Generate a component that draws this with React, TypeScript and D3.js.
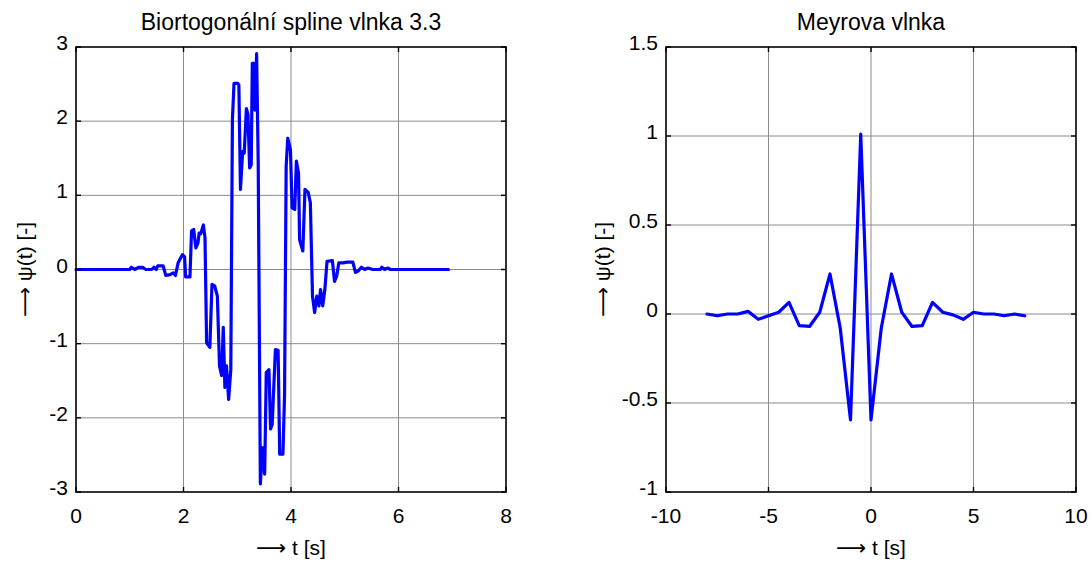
import React from 'react';
import * as d3 from 'd3';

// biorthogonal spline wavelet 3.3
const bioT = [0, 1.0, 1.03, 1.1, 1.16, 1.24, 1.3, 1.41, 1.45, 1.49, 1.52, 1.62, 1.67, 1.75, 1.81, 1.85, 1.9, 1.98, 2.02, 2.04, 2.12, 2.15, 2.19, 2.23, 2.27, 2.29, 2.32, 2.37, 2.4, 2.43, 2.49, 2.53, 2.58, 2.63, 2.67, 2.71, 2.74, 2.77, 2.8, 2.84, 2.88, 2.91, 2.94, 2.98, 3.01, 3.03, 3.06, 3.1, 3.13, 3.17, 3.2, 3.23, 3.26, 3.28, 3.31, 3.33, 3.36, 3.39, 3.43, 3.47, 3.51, 3.54, 3.59, 3.62, 3.65, 3.71, 3.76, 3.79, 3.85, 3.88, 3.91, 3.94, 3.99, 4.02, 4.07, 4.1, 4.14, 4.16, 4.22, 4.26, 4.32, 4.36, 4.4, 4.44, 4.48, 4.52, 4.55, 4.59, 4.63, 4.67, 4.77, 4.81, 4.85, 4.89, 4.97, 5.04, 5.15, 5.2, 5.25, 5.31, 5.37, 5.43, 5.52, 5.66, 5.69, 5.74, 5.8, 5.85, 6.93];
const bioPsi = [0, 0, 0.03, 0, 0.03, 0.03, 0, 0, 0.03, 0, 0.05, 0.05, -0.08, -0.07, -0.045, -0.08, 0.09, 0.2, 0.17, -0.1, -0.1, 0.52, 0.54, 0.29, 0.36, 0.49, 0.48, 0.6, 0.43, -0.99, -1.05, -0.2, -0.22, -0.36, -1.3, -1.43, -0.78, -1.59, -1.3, -1.75, -1.35, 2.02, 2.51, 2.51, 2.51, 2.49, 1.08, 1.59, 1.57, 2.17, 2.09, 1.37, 1.41, 2.78, 2.78, 2.15, 2.91, 1.43, -2.89, -2.4, -2.76, -1.39, -1.35, -2.15, -2.09, -1.08, -1.09, -2.49, -2.49, -1.7, 1.39, 1.77, 1.61, 0.83, 0.81, 1.46, 1.3, 0.4, 0.25, 1.08, 1.04, 0.9, -0.36, -0.58, -0.36, -0.49, -0.27, -0.49, -0.27, 0.11, 0.12, -0.16, -0.09, 0.09, 0.09, 0.1, 0.1, -0.04, -0.02, 0.03, 0, 0.02, 0, 0, 0.03, 0, 0.02, 0, 0];

// Meyer wavelet samples
const meyT = [-8, -7.5, -7, -6.5, -6, -5.5, -5, -4.5, -4, -3.5, -3, -2.5, -2, -1.5, -1, -0.5, 0, 0.5, 1, 1.5, 2, 2.5, 3, 3.5, 4, 4.5, 5, 5.5, 6, 6.5, 7, 7.5];
const meyPsi = [0, -0.01, 0, 0, 0.015, -0.03, -0.01, 0.01, 0.065, -0.065, -0.07, 0.01, 0.225, -0.08, -0.595, 1.01, -0.595, -0.08, 0.225, 0.01, -0.07, -0.065, 0.065, 0.01, -0.005, -0.03, 0.01, 0, 0, -0.01, 0, -0.01];

const bioXTicks = [0, 2, 4, 6, 8];
const bioYTicks = [-3, -2, -1, 0, 1, 2, 3];
const meyXTicks = [-10, -5, 0, 5, 10];
const meyYTicks = [-1, -0.5, 0, 0.5, 1, 1.5];

const FONT = "'Liberation Sans', Arial, sans-serif";
const ARROW_FONT = "'DejaVu Sans', sans-serif";

type PanelProps = {
  left: number;
  right: number;
  top: number;
  bottom: number;
  xDomain: [number, number];
  yDomain: [number, number];
  xTicks: number[];
  yTicks: number[];
  xs: number[];
  ys: number[];
  title: string;
  ylabelX: number;
};

function Panel(p: PanelProps) {
  const x = d3.scaleLinear().domain(p.xDomain).range([p.left, p.right]);
  const y = d3.scaleLinear().domain(p.yDomain).range([p.bottom, p.top]);
  const line = d3.line<number>()
    .x((_, i) => x(p.xs[i]))
    .y(d => y(d));
  const tl = 5;
  const cx = (p.left + p.right) / 2;
  const cy = (p.top + p.bottom) / 2;

  return (
    <g fontFamily={FONT} fill="#000">
      {/* grid */}
      {p.xTicks.slice(1, -1).map(t => (
        <line key={'gx' + t} x1={x(t)} x2={x(t)} y1={p.top} y2={p.bottom} stroke="#8c8c8c" strokeWidth={1} />
      ))}
      {p.yTicks.slice(1, -1).map(t => (
        <line key={'gy' + t} x1={p.left} x2={p.right} y1={y(t)} y2={y(t)} stroke="#8c8c8c" strokeWidth={1} />
      ))}
      {/* data */}
      <path d={line(p.ys) || ''} fill="none" stroke="#0000ff" strokeWidth={3.2} strokeLinejoin="round" strokeLinecap="round" />
      {/* box */}
      <rect x={p.left} y={p.top} width={p.right - p.left} height={p.bottom - p.top} fill="none" stroke="#000" strokeWidth={1.6} />
      {/* ticks */}
      {p.xTicks.map(t => (
        <g key={'tx' + t}>
          <line x1={x(t)} x2={x(t)} y1={p.bottom} y2={p.bottom - tl} stroke="#000" strokeWidth={1.4} />
          <line x1={x(t)} x2={x(t)} y1={p.top} y2={p.top + tl} stroke="#000" strokeWidth={1.4} />
          <text x={x(t)} y={p.bottom + 31} fontSize={21} textAnchor="middle">{String(t)}</text>
        </g>
      ))}
      {p.yTicks.map(t => (
        <g key={'ty' + t}>
          <line x1={p.left} x2={p.left + tl} y1={y(t)} y2={y(t)} stroke="#000" strokeWidth={1.4} />
          <line x1={p.right} x2={p.right - tl} y1={y(t)} y2={y(t)} stroke="#000" strokeWidth={1.4} />
          <text x={p.left - 8} y={y(t) + 3} fontSize={21} textAnchor="end">{String(t)}</text>
        </g>
      ))}
      <text x={cx} y={p.top - 17} fontSize={23} textAnchor="middle">{p.title}</text>
      <text x={cx} y={p.bottom + 63} fontSize={21} textAnchor="middle">
        <tspan fontFamily={ARROW_FONT}>{'\u27f6'}</tspan>{' t [s]'}
      </text>
      <text transform={`translate(${p.ylabelX},${cy}) rotate(-90)`} fontSize={21} textAnchor="middle">
        <tspan fontFamily={ARROW_FONT}>{'\u27f6'}</tspan>{' \u03c8(t) [-]'}
      </text>
    </g>
  );
}

export default function App() {
  return (
    <svg width={1092} height={563} style={{ position: 'absolute', left: 0, top: 0, background: '#fff' }}>
      <rect width={1092} height={563} fill="#fff" />
      <Panel left={76} right={506} top={47} bottom={492} xDomain={[0, 8]} yDomain={[-3, 3]}
        xTicks={bioXTicks} yTicks={bioYTicks} xs={bioT} ys={bioPsi}
        title="Biortogonální spline vlnka 3.3" ylabelX={32} />
      <Panel left={666} right={1076} top={47} bottom={492} xDomain={[-10, 10]} yDomain={[-1, 1.5]}
        xTicks={meyXTicks} yTicks={meyYTicks} xs={meyT} ys={meyPsi}
        title="Meyrova vlnka" ylabelX={610} />
    </svg>
  );
}
